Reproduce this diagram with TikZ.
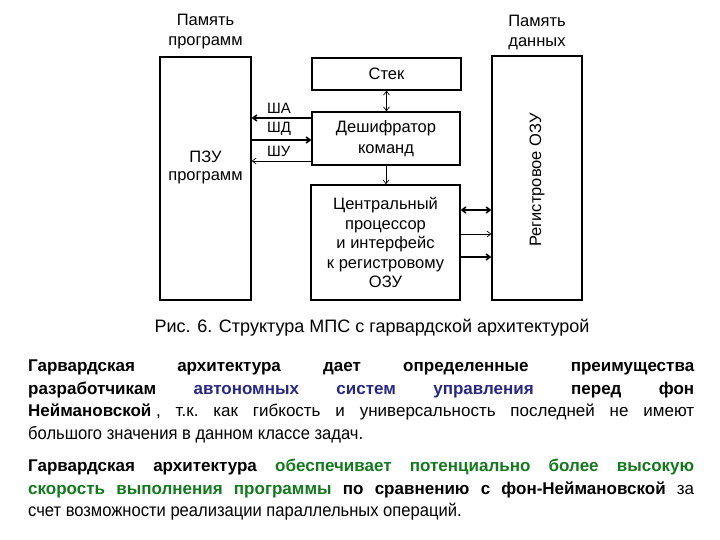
\documentclass[tikz,border=0pt]{standalone}
\usepackage{fontspec}
\setmainfont{Liberation Sans}
\newfontfamily\narrowf[FakeStretch=0.92]{Liberation Sans}
\usetikzlibrary{arrows.meta}
\definecolor{blu}{RGB}{40,40,130}
\definecolor{grn}{RGB}{20,120,30}
\tikzset{
  blk/.style={draw,line width=1.2pt,inner sep=0pt},
  lbl/.style={font=\fontsize{16.5}{18}\selectfont,align=center,inner sep=0pt},
  buslbl/.style={font=\fontsize{15}{16}\selectfont,inner sep=0pt,anchor=south west},
  thick bus/.style={line width=1.6pt,-{Straight Barb[length=4pt,width=6pt]}},
  thin bus/.style={line width=0.7pt,-{Straight Barb[length=4pt,width=6pt]}},
  para/.style={anchor=west,inner sep=0pt,font=\fontsize{17}{19}\selectfont},
}
\newcommand{\jl}[1]{\makebox[666pt][s]{#1}}
\begin{document}
\begin{tikzpicture}[x=1pt,y=-1pt]
\useasboundingbox (0,0) rectangle (720,540);
% boxes
\node[blk,minimum width=91pt,minimum height=243pt] (pzu) at (205.5,178.5) {};
\node[lbl] (pzut) at (205.5,167) {ПЗУ\\программ};
\node[blk,minimum width=149pt,minimum height=32pt] (stek) at (386.5,74) {};
\node[lbl] at (stek) {Стек};
\node[blk,minimum width=148pt,minimum height=53pt] (dec) at (386,138.5) {};
\node[lbl,align=center,font=\fontsize{16.5}{21}\selectfont] at (dec) {Дешифратор\\команд};
\node[blk,minimum width=149pt,minimum height=115pt] (cpu) at (385.5,242.5) {};
\node[lbl,align=center,font=\fontsize{16.5}{19.5}\selectfont] at (cpu) {Центральный\\процессор\\и интерфейс\\к регистровому\\ОЗУ};
\node[blk,minimum width=90pt,minimum height=244pt] (ram) at (537,178) {};
\node[lbl,rotate=90] at (537,180) {Регистровое ОЗУ};
\node[lbl,font=\fontsize{16.5}{20}\selectfont] at (205.5,32) {Память\\программ};
\node[lbl,font=\fontsize{16.5}{20}\selectfont] at (537,32) {Память\\данных};
% buses
\coordinate (a1) at (dec.west|-0,118); \coordinate (a2) at (pzu.east|-0,118);
\coordinate (d1) at (pzu.east|-0,140); \coordinate (d2) at (dec.west|-0,140);
\coordinate (u1) at (dec.west|-0,161); \coordinate (u2) at (pzu.east|-0,161);
\draw[thick bus] (a1) -- (a2);
\draw[thick bus] (d1) -- (d2);
\draw[thin bus] (u1) -- (u2);
\node[buslbl] at (267,114) {ША};
\node[buslbl] at (267,136) {ШД};
\node[buslbl] at (267,157) {ШУ};
\draw[thin bus,{Straight Barb[length=4pt,width=6pt]}-{Straight Barb[length=4pt,width=6pt]}] (stek.south) -- (stek.south|-dec.north);
\draw[thin bus] (dec.south) -- (dec.south|-cpu.north);
\coordinate (r1) at (cpu.east|-0,210); \coordinate (r2) at (ram.west|-0,210);
\coordinate (r3) at (cpu.east|-0,234); \coordinate (r4) at (ram.west|-0,234);
\coordinate (r5) at (cpu.east|-0,257); \coordinate (r6) at (ram.west|-0,257);
\draw[thick bus,{Straight Barb[length=4pt,width=6pt]}-{Straight Barb[length=4pt,width=6pt]}] (r1) -- (r2);
\draw[thin bus] (r3) -- (r4);
\draw[thick bus] (r5) -- (r6);
% caption
\node[font=\fontsize{18}{20}\selectfont,inner sep=0pt] (cap) at (372,328) {Рис. 6. Структура МПС с гарвардской архитектурой};
% paragraph 1
\node[para] (p1) at (28,367) {\bfseries\jl{Гарвардская\hfill архитектура\hfill дает\hfill определенные\hfill преимущества}};
\node[para] (p2) at (28,390) {\bfseries\jl{разработчикам\hfill \color{blu}автономных\hfill систем\hfill управления\hfill \color{black}перед\hfill фон}};
\node[para] (p3) at (28,412) {\jl{\textbf{Неймановской} ,\hfill т.к.\hfill как\hfill гибкость\hfill и\hfill универсальность\hfill последней\hfill не\hfill имеют}};
\node[para] (p4) at (28,435) {\narrowf\fontsize{18}{20}\selectfont большого значения в данном классе задач.};
% paragraph 2
\node[para] (q1) at (28,467) {\bfseries\jl{Гарвардская\hfill архитектура\hfill \color{grn}обеспечивает\hfill потенциально\hfill более\hfill высокую}};
\node[para] (q2) at (28,490) {\jl{\bfseries\color{grn}скорость\hfill выполнения\hfill программы\hfill \color{black}по\hfill сравнению\hfill с\hfill фон-Неймановской\hfill \mdseries за}};
\node[para] (q3) at (28,512) {\narrowf\fontsize{18}{20}\selectfont счет возможности реализации параллельных операций.};
\end{tikzpicture}
\end{document}
